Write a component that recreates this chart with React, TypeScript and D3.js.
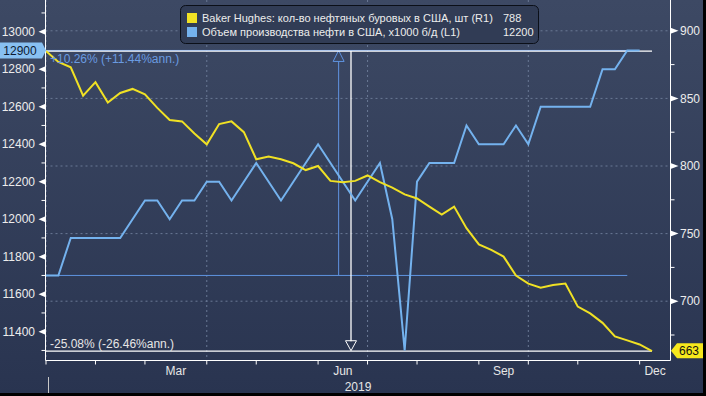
import React from 'react';
import * as d3 from 'd3';

// weekly dates (Fridays)
const rigDates = d3.timeFriday.range(new Date(2018, 11, 28), new Date(2019, 11, 7));
const outputDates = d3.timeFriday.range(new Date(2018, 11, 28), new Date(2019, 10, 30));

// Baker Hughes oil rigs (R1)
const rigCount = [
  885, 877, 873, 852, 862, 847, 854, 857, 853, 843, 834, 833, 824, 816, 831, 833, 825,
  805, 807, 805, 802, 797, 800, 789, 788, 789, 793, 788, 784, 779, 776, 770, 764, 770,
  754, 742, 738, 733, 719, 713, 710, 712, 713, 696, 691, 684, 674, 671, 668, 663,
];

// US crude output, x1000 b/d (L1)
const oilOutput = [
  11700, 11700, 11900, 11900, 11900, 11900, 11900, 12000, 12100, 12100, 12000, 12100,
  12100, 12200, 12200, 12100, 12200, 12300, 12200, 12100, 12200, 12300, 12400, 12300,
  12200, 12100, 12200, 12300, 12000, 11300, 12200, 12300, 12300, 12300, 12500, 12400,
  12400, 12400, 12500, 12400, 12600, 12600, 12600, 12600, 12600, 12800, 12800, 12900,
  12900,
];

const leftTicks = [11400, 11600, 11800, 12000, 12200, 12400, 12600, 12800, 13000];
const leftMinor = [11300, 11500, 11700, 11900, 12100, 12300, 12500, 12700, 12900, 13100];
const rightTicks = [700, 750, 800, 850, 900];
const rightMinor = [675, 725, 775, 825, 875];
const quarterMonths = [2, 5, 8, 11];

const rigLabel = 'Baker Hughes: кол-во нефтяных буровых в США, шт (R1)';
const outputLabel = 'Объем производства нефти в США, x1000 б/д (L1)';
const legendDate = new Date(2019, 5, 14);
const outputChange = '+10.26% (+11.44%ann.)';
const rigChange = '-25.08% (-26.46%ann.)';
const yearLabel = '2019';

const FONT = '"Liberation Sans", Arial, sans-serif';
const YELLOW = '#f0e124';
const BLUE = '#74b2ee';

export default function App() {
  const W = 706;
  const H = 396;
  const plotL = 45.5; // left axis
  const plotR = 670.5; // right axis
  const plotB = 360.5; // bottom axis

  const x = d3
    .scaleTime()
    .domain([rigDates[0], rigDates[rigDates.length - 1]])
    .range([46, 652]);
  const yL = d3.scaleLinear().domain([11400, 13000]).range([331.7, 31.7]);
  const yR = d3.scaleLinear().domain([700, 900]).range([301.2, 30.8]);

  const rigLine = d3
    .line<number>()
    .x((_, i) => x(rigDates[i]))
    .y((d) => yR(d));
  const outputLine = d3
    .line<number>()
    .x((_, i) => x(outputDates[i]))
    .y((d) => yL(d));

  // month-end ticks: last weekly point of each complete month
  const tickDates = rigDates.filter(
    (d, i) => i < rigDates.length - 1 && rigDates[i + 1].getMonth() !== d.getMonth()
  );
  const monthLabels = tickDates
    .map((d, k) => {
      const next = d3.timeDay.offset(d, 7);
      const x0 = x(d);
      const x1 = k < tickDates.length - 1 ? x(tickDates[k + 1]) : plotR;
      return { m: next.getMonth(), label: d3.timeFormat('%b')(next), cx: (x0 + x1) / 2 };
    })
    .filter((o) => quarterMonths.includes(o.m));
  const quarterTicks = tickDates.filter((d) => quarterMonths.includes(d.getMonth()));

  const li = rigDates.findIndex((d) => +d === +legendDate);

  // change measurements
  const rigFirst = rigCount[0];
  const rigLast = rigCount[rigCount.length - 1];
  const rigEndX = x(rigDates[rigDates.length - 1]);
  const rigMidX = (x(rigDates[0]) + rigEndX) / 2 + 2;
  const outFirst = oilOutput[0];
  const outMax = d3.max(oilOutput) as number;
  const outEndI = oilOutput.indexOf(outMax);
  const outEndX = x(outputDates[outEndI]);
  const outMidX = (x(outputDates[0]) + outEndX) / 2 + 2;

  const tagL = yL(12900);
  const tagR = yR(rigLast);

  return (
    <svg
      width={W}
      height={H}
      style={{ position: 'absolute', left: 0, top: 0, display: 'block' }}
      fontFamily={FONT}
    >
      <defs>
        <linearGradient id="bg" x1="0" y1="0" x2="0" y2="1">
          <stop offset="0" stopColor="#3d4964" />
          <stop offset="1" stopColor="#293450" />
        </linearGradient>
      </defs>
      <rect x={0} y={0} width={W} height={H} fill="url(#bg)" />

      {/* grid */}
      {rightTicks.map((t) => (
        <line
          key={'gh' + t}
          x1={plotL}
          x2={plotR}
          y1={yR(t)}
          y2={yR(t)}
          stroke="#6a7995"
          strokeDasharray="2,3"
        />
      ))}
      {quarterTicks.map((d) => (
        <line
          key={'gv' + +d}
          x1={x(d)}
          x2={x(d)}
          y1={0}
          y2={plotB}
          stroke="#6a7995"
          strokeDasharray="2,3"
        />
      ))}

      {/* blue change measurement */}
      <g stroke="#5f93e0" strokeWidth={1}>
        <line x1={plotL} x2={outEndX} y1={yL(outFirst)} y2={yL(outFirst)} />
        <line x1={plotL} x2={outEndX} y1={yL(outMax)} y2={yL(outMax)} />
        <line x1={outMidX} x2={outMidX} y1={yL(outFirst)} y2={yL(outMax) + 11} />
        <path
          d={`M${outMidX},${yL(outMax)} L${outMidX - 5.5},${yL(outMax) + 11} L${outMidX + 5.5},${yL(outMax) + 11} Z`}
          fill="none"
        />
      </g>

      {/* white change measurement */}
      <g stroke="#ffffff" strokeWidth={1.3}>
        <line x1={plotL} x2={rigEndX} y1={yR(rigFirst)} y2={yR(rigFirst)} />
        <line x1={plotL} x2={rigEndX} y1={yR(rigLast)} y2={yR(rigLast)} />
        <line x1={rigMidX} x2={rigMidX} y1={yR(rigFirst)} y2={yR(rigLast) - 10} />
        <path
          d={`M${rigMidX},${yR(rigLast) - 0.5} L${rigMidX - 5.5},${yR(rigLast) - 10.5} L${rigMidX + 5.5},${yR(rigLast) - 10.5} Z`}
          fill="none"
          strokeWidth={1}
        />
      </g>

      {/* series */}
      <path d={outputLine(oilOutput) || ''} fill="none" stroke={BLUE} strokeWidth={2} />
      <path d={rigLine(rigCount) || ''} fill="none" stroke={YELLOW} strokeWidth={2} />

      <text x={50} y={yL(outMax) + 13} fontSize={12} fill="#6a9be0">
        {outputChange}
      </text>
      <text x={50} y={yR(rigLast) - 3} fontSize={12} fill="#e6e6e6">
        {rigChange}
      </text>

      {/* axes */}
      <g stroke="#ffffff" strokeWidth={1}>
        <line x1={plotL} x2={plotL} y1={0} y2={plotB} />
        <line x1={plotR} x2={plotR} y1={0} y2={plotB} />
        <line x1={plotL} x2={plotR} y1={plotB} y2={plotB} />
        {tickDates.map((d) => (
          <line key={'t' + +d} x1={x(d)} x2={x(d)} y1={plotB} y2={plotB + 4} />
        ))}
        {leftMinor.map((t) => (
          <line key={'lm' + t} x1={plotL - 4} x2={plotL} y1={yL(t)} y2={yL(t)} />
        ))}
        {rightMinor.map((t) => (
          <line key={'rm' + t} x1={plotR} x2={plotR + 4} y1={yR(t)} y2={yR(t)} />
        ))}
        <line x1={x(tickDates[0]) + 2.5} x2={x(tickDates[0]) + 2.5} y1={377} y2={H} stroke="#c8c8c8" />
      </g>
      {leftTicks.map((t) => (
        <g key={'l' + t}>
          <path d={`M${plotL},${yL(t) - 3} L${plotL - 7},${yL(t)} L${plotL},${yL(t) + 3} Z`} fill="#ffffff" />
          <text x={35} y={yL(t)} dy="0.35em" textAnchor="end" fontSize={12} fill="#ececec">
            {t}
          </text>
        </g>
      ))}
      {rightTicks.map((t) => (
        <g key={'r' + t}>
          <path d={`M${plotR},${yR(t) - 3} L${plotR + 8},${yR(t)} L${plotR},${yR(t) + 3} Z`} fill="#ffffff" />
          <text x={680} y={yR(t)} dy="0.35em" fontSize={12} fill="#ececec">
            {t}
          </text>
        </g>
      ))}
      {monthLabels.map((o) => (
        <text key={o.label} x={o.cx} y={375} textAnchor="middle" fontSize={12} fill="#e6e6e6">
          {o.label}
        </text>
      ))}
      <text x={(plotL + plotR) / 2} y={391} textAnchor="middle" fontSize={12} fill="#e6e6e6">
        {yearLabel}
      </text>

      {/* value tags */}
      <path
        d={`M0,${tagL - 8} L42,${tagL - 8} L46,${tagL} L42,${tagL + 8} L0,${tagL + 8} Z`}
        fill="#88c0f2"
      />
      <text x={20} y={tagL} dy="0.36em" textAnchor="middle" fontSize={12} fill="#0d1a33">
        {12900}
      </text>
      <path
        d={`M671,${tagR - 0.5} L677,${tagR - 8} L704,${tagR - 8} L704,${tagR + 7} L677,${tagR + 7} Z`}
        fill="#f7e81c"
      />
      <text x={689} y={tagR} dy="0.33em" textAnchor="middle" fontSize={12} fill="#111111">
        {rigLast}
      </text>

      {/* legend */}
      <rect x={180.5} y={5.5} width={358} height={38} rx={5} fill="#313c55" stroke="#0b0f18" />
      <rect x={187} y={13} width={10} height={10} fill={YELLOW} />
      <rect x={187} y={27} width={10} height={10} fill={BLUE} />
      <g fontSize={11} fill="#ececec">
        <text x={202} y={22}>{rigLabel}</text>
        <text x={202} y={36}>{outputLabel}</text>
        <text x={503} y={22}>{rigCount[li]}</text>
        <text x={503} y={36}>{oilOutput[li]}</text>
      </g>

      {/* outer frame */}
      <rect x={703} y={0} width={3} height={H} fill="#000000" />
      <rect x={0} y={393} width={W} height={3} fill="#000000" />
    </svg>
  );
}
